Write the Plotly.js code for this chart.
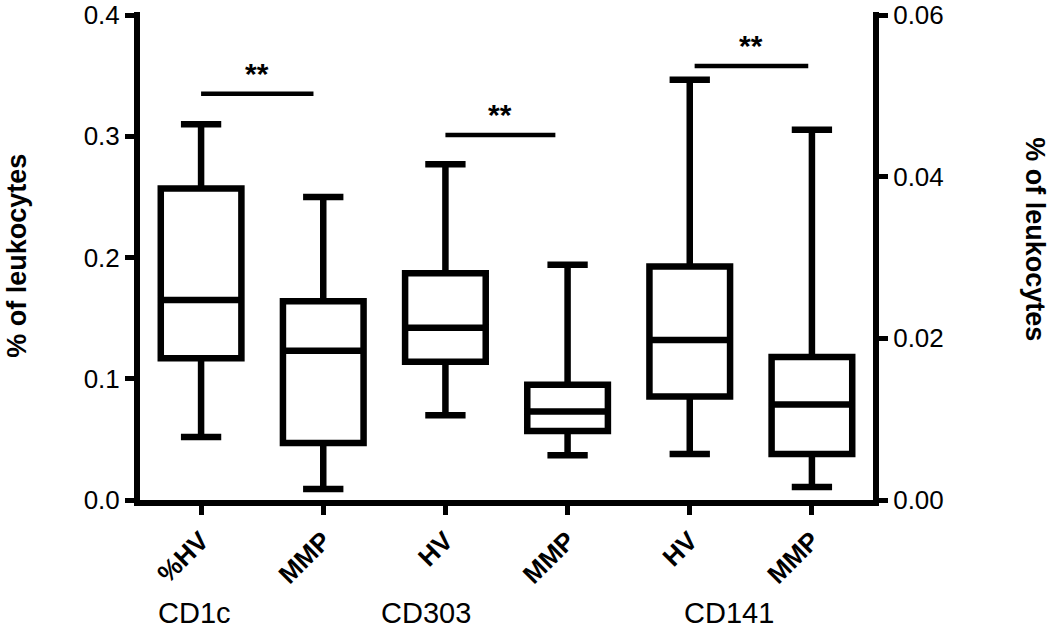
<!DOCTYPE html>
<html>
<head>
<meta charset="utf-8">
<script src="https://cdn.plot.ly/plotly-3.0.1.min.js"></script>
<style>html,body{margin:0;padding:0;background:#fff;}#chart{width:1050px;height:634px;}</style>
</head>
<body>
<div id="chart"></div>
<script>
// Data
var categories = ['%HV', 'MMP', 'HV', 'MMP', 'HV', 'MMP'];
var groups = ['CD1c', 'CD303', 'CD141'];
var groupCenters = [-0.05, 1.84, 4.32];
var lowerFence = [0.052, 0.009, 0.070, 0.037, 0.0057, 0.0016];
var q1 = [0.117, 0.047, 0.114, 0.057, 0.0128, 0.0057];
var median = [0.165, 0.123, 0.142, 0.073, 0.0198, 0.0118];
var q3 = [0.257, 0.164, 0.187, 0.095, 0.0289, 0.0177];
var upperFence = [0.310, 0.250, 0.277, 0.194, 0.052, 0.0458];
var axisOf = ['y', 'y', 'y', 'y', 'y2', 'y2'];
var sigStart = [0, 2, 4.04];
var sigEnd = [0.92, 2.9, 4.97];
var sigLevel = [0.335, 0.301, 0.358];
var sigLabel = ['**', '**', '**'];

var FONT = 'Liberation Sans, Arial, sans-serif';
var traces = [];
for (var i = 0; i < categories.length; i++) {
  traces.push({
    type: 'box',
    x: [i],
    q1: [q1[i]], median: [median[i]], q3: [q3[i]],
    lowerfence: [lowerFence[i]], upperfence: [upperFence[i]],
    yaxis: axisOf[i],
    width: 0.66,
    whiskerwidth: 0.5,
    boxpoints: false,
    line: {color: '#000', width: 6.5},
    fillcolor: 'rgba(255,255,255,0)',
    showlegend: false,
    hoverinfo: 'skip'
  });
}

var shapes = [];
var annotations = [];
for (var k = 0; k < sigStart.length; k++) {
  shapes.push({type: 'line', xref: 'x', yref: 'y', x0: sigStart[k], x1: sigEnd[k], y0: sigLevel[k], y1: sigLevel[k],
    line: {color: '#000', width: 4.5}});
  annotations.push({xref: 'x', yref: 'y', x: (sigStart[k] + sigEnd[k]) / 2, y: sigLevel[k], text: sigLabel[k],
    showarrow: false, yanchor: 'bottom', yshift: 2, font: {family: FONT, size: 30, color: '#000', weight: 'bold'}});
}
for (var g = 0; g < groups.length; g++) {
  annotations.push({xref: 'x', yref: 'paper', x: groupCenters[g], y: -0.231, text: groups[g], showarrow: false,
    yanchor: 'middle', xanchor: 'center', font: {family: FONT, size: 29, color: '#000'}});
}
annotations.push({xref: 'paper', yref: 'paper', x: -0.168, y: 0.5, text: '% of leukocytes', textangle: -90,
  showarrow: false, xanchor: 'center', yanchor: 'middle', font: {family: FONT, size: 27, color: '#000', weight: 'bold'}});
annotations.push({xref: 'paper', yref: 'paper', x: 1.22, y: 0.534, text: '% of leukocytes', textangle: 90,
  showarrow: false, xanchor: 'center', yanchor: 'middle', font: {family: FONT, size: 27, color: '#000', weight: 'bold'}});

var layout = {
  width: 1050, height: 634,
  margin: {l: 140, r: 177, t: 12, b: 134},
  paper_bgcolor: '#fff', plot_bgcolor: '#fff',
  showlegend: false,
  xaxis: {
    range: [-0.5, 5.5], tickvals: [0, 1, 2, 3, 4, 5], ticktext: categories,
    tickangle: -45, showline: true, linecolor: '#000', linewidth: 6,
    ticks: 'outside', ticklen: 9, tickwidth: 5, tickcolor: '#000',
    showgrid: false, zeroline: false,
    tickfont: {family: FONT, size: 26, color: '#000', weight: 'bold'}
  },
  yaxis: {
    range: [0, 0.4025], tickvals: [0, 0.1, 0.2, 0.3, 0.4], ticktext: ['0.0', '0.1', '0.2', '0.3', '0.4'],
    showline: true, linecolor: '#000', linewidth: 6,
    ticks: 'outside', ticklen: 9, tickwidth: 5, tickcolor: '#000',
    showgrid: false, zeroline: false, ticklabeloverflow: 'allow',
    tickfont: {family: FONT, size: 26, color: '#000'}
  },
  yaxis2: {
    overlaying: 'y', side: 'right', anchor: 'x',
    range: [0, 0.060375], tickvals: [0, 0.02, 0.04, 0.06], ticktext: ['0.00', '0.02', '0.04', '0.06'],
    showline: true, linecolor: '#000', linewidth: 6,
    ticks: 'outside', ticklen: 9, tickwidth: 5, tickcolor: '#000',
    showgrid: false, zeroline: false, ticklabeloverflow: 'allow',
    tickfont: {family: FONT, size: 26, color: '#000'}
  },
  shapes: shapes,
  annotations: annotations
};

Plotly.newPlot('chart', traces, layout, {displayModeBar: false, staticPlot: true});
</script>
</body>
</html>
